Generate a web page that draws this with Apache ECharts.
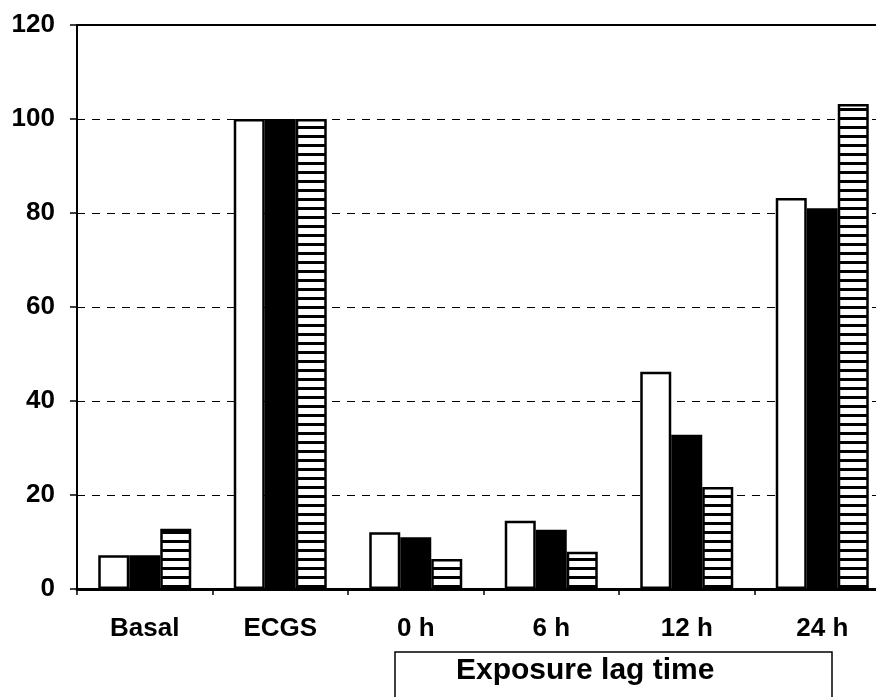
<!DOCTYPE html>
<html>
<head>
<meta charset="utf-8">
<script src="https://cdn.jsdelivr.net/npm/echarts@6/dist/echarts.min.js"></script>
<style>html,body{margin:0;padding:0;background:#fff;overflow:hidden;width:876px;height:697px;}#c{width:890px;height:697px;}</style>
</head>
<body>
<div id="c"></div>
<script>
const categories = ['Basal', 'ECGS', '0 h', '6 h', '12 h', '24 h'];
const seriesWhite = [7.2, 100, 12.1, 14.5, 46.2, 83.2];
const seriesBlack = [7.2, 100, 11.0, 12.6, 32.8, 81.0];
const seriesStriped = [12.8, 100, 6.4, 7.9, 21.7, 103.2];
const yTicks = [0, 20, 40, 60, 80, 100, 120];

const pc = document.createElement('canvas');
pc.width = 10; pc.height = 9;
const g = pc.getContext('2d');
g.fillStyle = '#fff'; g.fillRect(0, 0, 10, 9);
g.fillStyle = '#000'; g.fillRect(0, 0, 10, 3);

const font = "'Liberation Sans', Arial, sans-serif";
const chart = echarts.init(document.getElementById('c'));
const barBase = { type: 'bar', barWidth: 31, barGap: '0%', animation: false };
chart.setOption({
  animation: false,
  grid: { left: 77, top: 25, right: 0, bottom: 108 },
  xAxis: [{
    type: 'category', data: categories,
    axisLine: { lineStyle: { color: '#000', width: 3 } },
    axisTick: { show: true, interval: 0, length: 6, lineStyle: { color: '#000', width: 1.5 } },
    axisLabel: { color: '#000', fontFamily: font, fontWeight: 'bold', fontSize: 26, margin: 27 }
  }, {
    type: 'category', data: categories, position: 'top',
    axisLine: { show: true, lineStyle: { color: '#000', width: 2 } },
    axisTick: { show: false }, axisLabel: { show: false }
  }],
  yAxis: {
    type: 'value', min: yTicks[0], max: yTicks[yTicks.length - 1], interval: 20,
    axisLine: { show: true, lineStyle: { color: '#000', width: 2 } },
    axisTick: { show: true, length: 7, lineStyle: { color: '#000', width: 1.5 } },
    axisLabel: { color: '#000', fontFamily: font, fontWeight: 'bold', fontSize: 26, margin: 22 },
    splitLine: { show: true, lineStyle: { color: '#000', width: 1, type: [8, 7] } }
  },
  series: [
    Object.assign({}, barBase, { data: seriesWhite, itemStyle: { color: '#fff', borderColor: '#000', borderWidth: 2.5 } }),
    Object.assign({}, barBase, { data: seriesBlack, itemStyle: { color: '#000', borderColor: '#000', borderWidth: 2 } }),
    Object.assign({}, barBase, { data: seriesStriped, itemStyle: { color: { image: pc, repeat: 'repeat' }, borderColor: '#000', borderWidth: 2.5 } })
  ],
  graphic: [
    { type: 'rect', shape: { x: 395, y: 652, width: 437, height: 70 }, style: { fill: 'none', stroke: '#000', lineWidth: 1.5 } },
    { type: 'text', left: 456, top: 656, style: { text: 'Exposure lag time', font: "bold 30px 'Liberation Sans', Arial, sans-serif", fill: '#000' } }
  ]
});
</script>
</body>
</html>
